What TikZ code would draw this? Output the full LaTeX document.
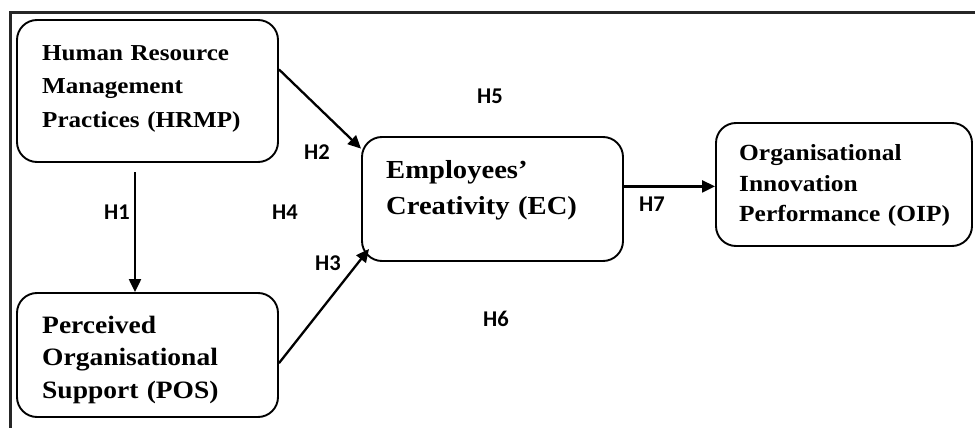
\documentclass[tikz,border=0pt]{standalone}
\usepackage{fontspec}
\setmainfont{Liberation Serif}
\newfontfamily\boxfont{Liberation Serif}[FakeStretch=1.1]
\newfontfamily\labfont{Carlito}
\usetikzlibrary{arrows.meta,calc}
\tikzset{
  framebox/.style={draw, line width=1.9pt, rounded corners=20pt, inner sep=0pt},
  txt/.style={anchor=base west, inner sep=0pt, align=left, text width=260pt},
  hlab/.style={inner sep=0pt, font=\labfont\bfseries\fontsize{22.5}{24}\selectfont},
  arr/.style={line width=2.3pt, -{Triangle[length=13pt,width=12pt]}}
}
\begin{document}
\begin{tikzpicture}[x=1pt,y=-1pt]
\useasboundingbox (0,0) rectangle (975,428);
\fill[white] (0,0) rectangle (975,428);
% outer frame (top and left only)
\draw[line width=2.4pt, black!85] (975,12.5) -- (10.5,12.5) -- (10.5,428);

% boxes
\node[framebox, minimum width=261pt, minimum height=142pt] (hrmp) at (147.5,91) {};
\node[framebox, minimum width=261pt, minimum height=124pt] (pos) at (147.5,355) {};
\node[framebox, minimum width=261pt, minimum height=124pt] (ec) at (492.5,199) {};
\node[framebox, minimum width=256pt, minimum height=123pt] (oip) at (844,184.5) {};

% texts
\node[txt, font=\boxfont\bfseries\fontsize{22.8}{33.5}\selectfont] (hrmpT) at (42,60)
  {Human Resource\\Management\\Practices (HRMP)};
\node[txt, font=\boxfont\bfseries\fontsize{25}{32.5}\selectfont] (posT) at (42,333)
  {Perceived\\Organisational\\Support (POS)};
\node[txt, font=\boxfont\bfseries\fontsize{26}{36}\selectfont] (ecT) at (386,178)
  {Employees’\\Creativity (EC)};
\node[txt, font=\boxfont\bfseries\fontsize{23.1}{31}\selectfont] (oipT) at (739,160)
  {Organisational\\Innovation\\Performance (OIP)};

% connectors
\coordinate (h1s) at (135,172);
\draw[arr] (h1s) -- (h1s |- pos.north);
\draw[arr] ($(hrmp.north east)!0.35!(hrmp.south east)$) -- ($(ec.north west)!0.1!(ec.south west)$);
\draw[arr] ($(pos.north east)!0.565!(pos.south east)$) -- ($(ec.south west)+(8,-13)$);
\coordinate (h7s) at ($(ec.north east)!0.4!(ec.south east)$);
\draw[arr] (h7s) -- (h7s -| oip.west);

% hypothesis labels
\node[hlab] (H1) at (117,212) {H1};
\node[hlab] (H2) at (317,152) {H2};
\node[hlab] (H3) at (328,263) {H3};
\node[hlab] (H4) at (285,212) {H4};
\node[hlab] (H5) at (490,96) {H5};
\node[hlab] (H6) at (496,319) {H6};
\node[hlab] (H7) at (652,204) {H7};
\end{tikzpicture}
\end{document}
